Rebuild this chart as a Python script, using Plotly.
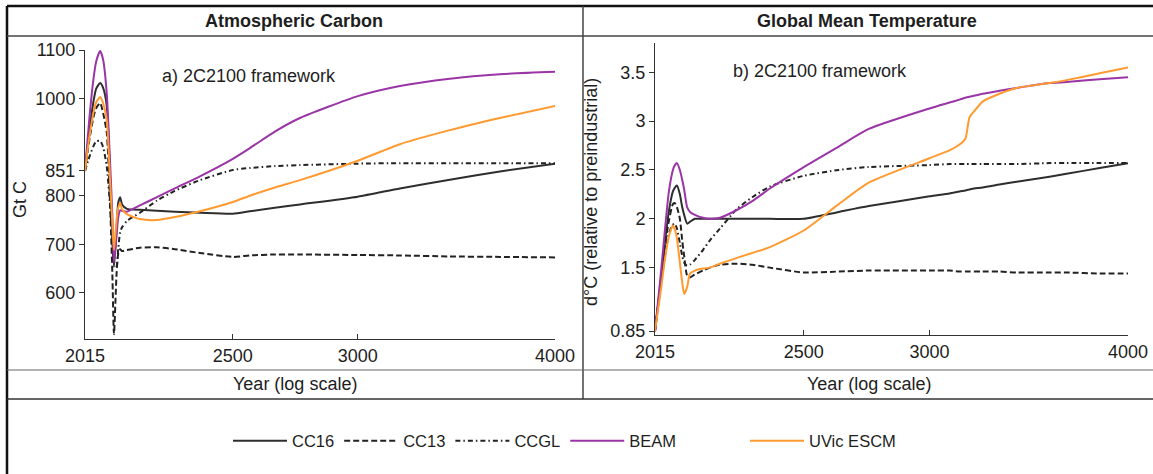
import math
import plotly.graph_objects as go

W, H = 1153, 474

# ---- Panel a: atmospheric carbon (Gt C) ----
years_a = [2015, 2024, 2030, 2040, 2048, 2060, 2069, 2080, 2090, 2097, 2102, 2110,
           2115, 2121, 2127, 2142, 2183, 2238, 2297, 2383, 2500, 2563, 2658, 2757,
           3000, 3190, 3431, 3691, 4000]
cc16_a = [851, 911, 945, 994, 1020, 1032, 1022, 985, 839, 715, 653, 730, 785, 797,
          782, 773, 771, 769, 767, 765, 763, 768, 775, 782, 798, 815, 833, 850, 866]
cc13_a = [851, 897, 924, 962, 980, 991, 970, 930, 785, 640, 515, 640, 680, 690,
          686, 688, 693, 694, 690, 682, 674, 677, 679, 679, 678, 677, 675, 674, 673]
ccgl_a = [851, 872, 884, 902, 912, 913, 900, 860, 780, 710, 665, 655, 690, 725,
          735, 748, 765, 790, 810, 832, 853, 857, 861, 863, 866, 867, 867, 867, 867]
beam_a = [851, 927, 975, 1040, 1076, 1098, 1080, 1010, 870, 760, 662, 720, 755, 770,
          769, 767, 780, 797, 815, 840, 876, 898, 932, 960, 1005, 1026, 1041, 1050, 1055]
uvic_a = [851, 901, 930, 971, 992, 1003, 990, 955, 832, 744, 688, 750, 775, 785,
          772, 762, 752, 750, 756, 768, 787, 800, 817, 832, 872, 906, 935, 960, 985]

# ---- Panel b: global mean temperature (deg C above preindustrial) ----
years_b = [2015, 2024, 2033, 2044, 2056, 2068, 2074, 2080, 2089, 2096, 2102, 2111,
           2120, 2135, 2160, 2182, 2214, 2269, 2320, 2380, 2500, 2630, 2747, 3000,
           3088, 3133, 3160, 3179, 3200, 3240, 3320, 3404, 3570, 3659, 3839, 4000]
cc16_b = [0.85, 1.12, 1.39, 1.75, 2.08, 2.28, 2.32, 2.34, 2.25, 2.12, 2.04, 1.95,
          1.97, 2.00, 2.00, 2.00, 2.00, 2.00, 2.00, 2.00, 2.00, 2.07, 2.13, 2.23,
          2.26, 2.28, 2.29, 2.30, 2.31, 2.32, 2.35, 2.38, 2.43, 2.46, 2.52, 2.57]
cc13_b = [0.85, 1.12, 1.39, 1.72, 1.98, 2.15, 2.16, 2.12, 2.00, 1.78, 1.62, 1.42,
          1.40, 1.43, 1.47, 1.50, 1.53, 1.54, 1.53, 1.50, 1.45, 1.46, 1.47, 1.47,
          1.47, 1.46, 1.46, 1.46, 1.46, 1.46, 1.46, 1.45, 1.45, 1.45, 1.44, 1.44]
ccgl_b = [0.85, 1.10, 1.35, 1.62, 1.85, 1.94, 1.95, 1.90, 1.75, 1.62, 1.55, 1.52,
          1.53, 1.58, 1.68, 1.78, 1.90, 2.10, 2.22, 2.33, 2.44, 2.50, 2.53, 2.55,
          2.56, 2.56, 2.56, 2.56, 2.56, 2.56, 2.56, 2.56, 2.57, 2.57, 2.57, 2.57]
beam_b = [0.85, 1.16, 1.47, 1.88, 2.28, 2.50, 2.55, 2.57, 2.50, 2.40, 2.30, 2.12,
          2.07, 2.04, 2.01, 2.00, 2.01, 2.09, 2.18, 2.31, 2.53, 2.74, 2.92, 3.13,
          3.19, 3.22, 3.24, 3.25, 3.26, 3.28, 3.31, 3.34, 3.39, 3.40, 3.43, 3.45]
uvic_b = [0.85, 1.07, 1.29, 1.58, 1.82, 1.93, 1.89, 1.80, 1.55, 1.35, 1.23, 1.30,
          1.44, 1.47, 1.49, 1.50, 1.54, 1.60, 1.65, 1.71, 1.88, 2.15, 2.37, 2.62,
          2.70, 2.76, 2.82, 3.04, 3.10, 3.20, 3.28, 3.34, 3.39, 3.42, 3.49, 3.55]

x_ticks = [2015, 2500, 3000, 4000]
y_ticks_a = [600, 700, 800, 851, 1000, 1100]
y_ticks_b = [0.85, 1.5, 2, 2.5, 3, 3.5]
y_ticklabels_b = ["0.85", "1.5", "2", "2.5", "3", "3.5"]

# name, carbon series, temperature series, colour, dash, legend box
series = [
    ("CC16", cc16_a, cc16_b, "#2e2e2e", "solid", "legend"),
    ("CC13", cc13_a, cc13_b, "#222222", "6px,3px", "legend"),
    ("CCGL", ccgl_a, ccgl_b, "#222222", "5px,3px,1.5px,3px", "legend"),
    ("BEAM", beam_a, beam_b, "#9a35a6", "solid", "legend"),
    ("UVic ESCM", uvic_a, uvic_b, "#ff9a30", "solid", "legend2"),
]

FONT = "Liberation Sans, Arial, sans-serif"
TXT = "#1e1e1e"
FS = 18

fig = go.Figure()
for name, va, vb, color, dash, leg in series:
    style = dict(color=color, width=2, dash=dash, shape="spline", smoothing=0.6)
    fig.add_trace(go.Scatter(x=years_a, y=va, name=name, mode="lines", legendgroup=name,
                             line=style, xaxis="x", yaxis="y", legend=leg))
    fig.add_trace(go.Scatter(x=years_b, y=vb, name=name, mode="lines", legendgroup=name,
                             line=style, xaxis="x2", yaxis="y2", showlegend=False))


def px_x(p):
    return p / W


def px_y(p):
    return 1 - p / H


xrange_log = [math.log10(2015), math.log10(4000)]
axis_common = dict(showline=True, linecolor="#333333", linewidth=1, showgrid=False,
                   zeroline=False, tickcolor="#333333", ticklen=5, automargin=False,
                   tickfont=dict(family=FONT, size=FS, color=TXT))

legend_common = dict(orientation="h", xanchor="left", y=px_y(441), yanchor="middle",
                     font=dict(family=FONT, size=16.5, color=TXT), itemwidth=54,
                     bgcolor="rgba(0,0,0,0)", traceorder="normal")

fig.update_layout(
    width=W, height=H,
    margin=dict(l=0, r=0, t=0, b=0, autoexpand=False),
    paper_bgcolor="white", plot_bgcolor="white",
    font=dict(family=FONT, color=TXT),
    xaxis=dict(type="log", range=xrange_log, domain=[px_x(85), px_x(555)], anchor="y",
               ticks="inside", tickvals=x_ticks, ticktext=[str(v) for v in x_ticks],
               **axis_common),
    yaxis=dict(range=[505, 1100], domain=[px_y(339), px_y(50)], anchor="x",
               ticks="outside", tickvals=y_ticks_a,
               ticktext=[str(v) for v in y_ticks_a], **axis_common),
    xaxis2=dict(type="log", range=xrange_log, domain=[px_x(655), px_x(1128)], anchor="y2",
                ticks="inside", tickvals=x_ticks, ticktext=[str(v) for v in x_ticks],
                **axis_common),
    yaxis2=dict(range=[0.81, 3.80], domain=[px_y(335), px_y(43)], anchor="x2",
                ticks="outside", tickvals=y_ticks_b, ticktext=y_ticklabels_b,
                **axis_common),
    legend=dict(x=px_x(228), **legend_common),
    legend2=dict(x=px_x(745), **legend_common),
)

# table frame around the two panels
frame = [
    (7, 6, W, 6, "#111111", 2.5),
    (7, 6, 7, H, "#111111", 2.5),
    (7, 36, W, 36, "#444444", 1.5),
    (583, 6, 583, 399, "#444444", 1.5),
    (7, 370, W, 370, "#666666", 1.2),
    (7, 399, W, 399, "#333333", 1.5),
]
for x0, y0, x1, y1, c, w in frame:
    fig.add_shape(type="line", xref="paper", yref="paper",
                  x0=px_x(x0), y0=px_y(y0), x1=px_x(x1), y1=px_y(y1),
                  line=dict(color=c, width=w))

texts = [
    (294, 21, "<b>Atmospheric Carbon</b>", 0),
    (867, 21, "<b>Global Mean Temperature</b>", 0),
    (295, 384, "Year (log scale)", 0),
    (869, 384, "Year (log scale)", 0),
    (249, 76, "a) 2C2100 framework", 0),
    (820, 71, "b) 2C2100 framework", 0),
    (20, 200, "Gt C", -90),
    (591, 192, "d°C (relative to preindustrial)", -90),
]
for x, y, t, ang in texts:
    fig.add_annotation(x=px_x(x), y=px_y(y), xref="paper", yref="paper", text=t,
                       showarrow=False, textangle=ang, xanchor="center", yanchor="middle",
                       font=dict(family=FONT, size=FS, color=TXT))

fig.write_html("out.html")
